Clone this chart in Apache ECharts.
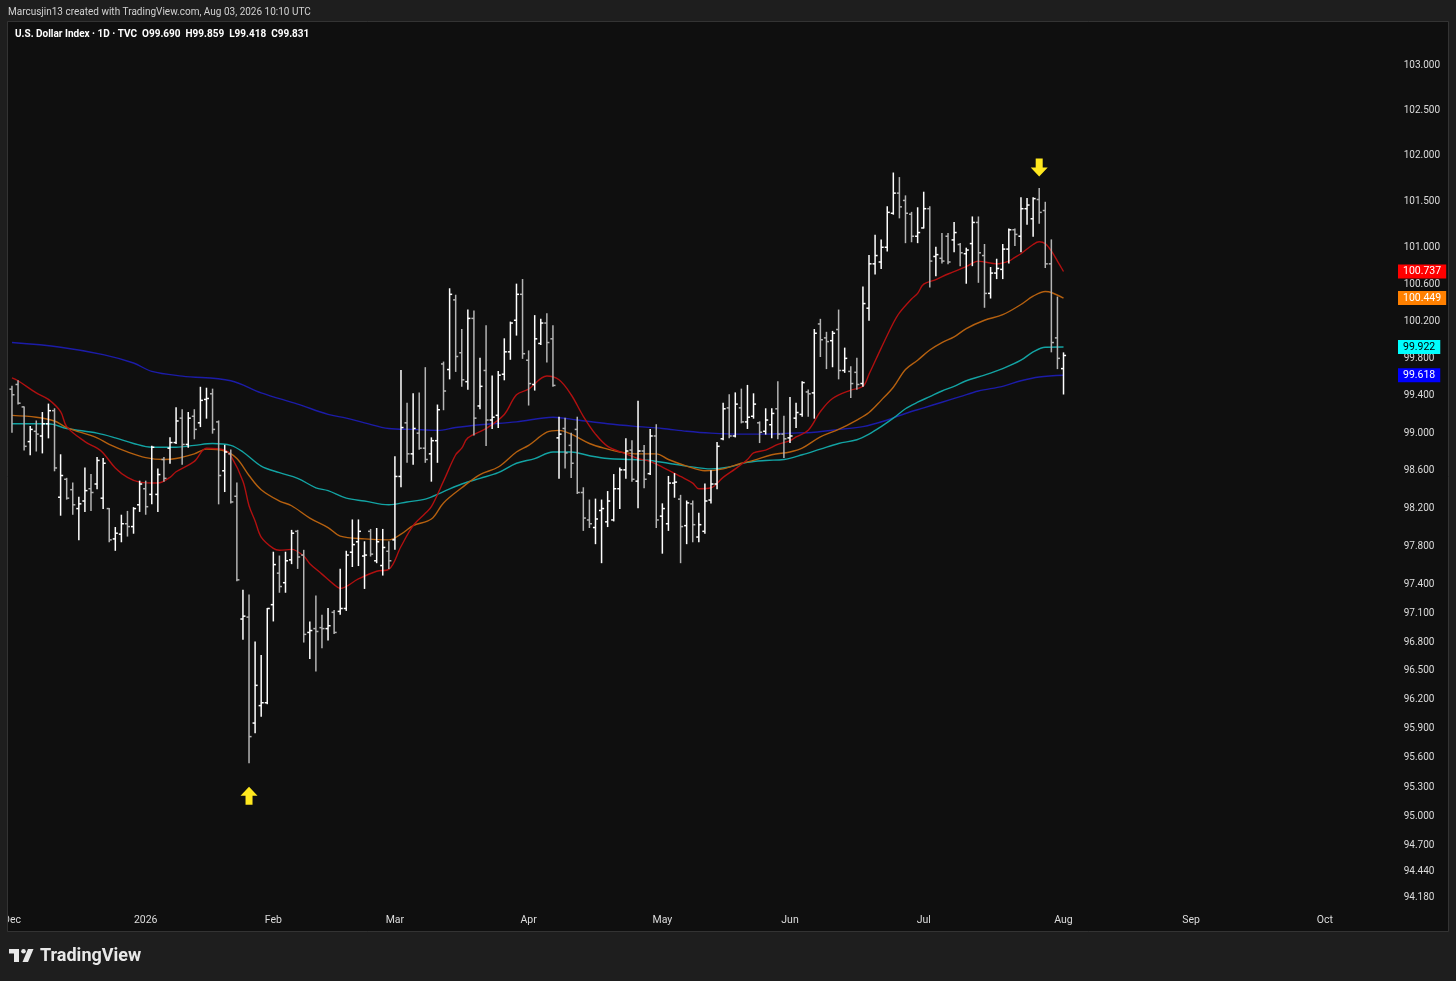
<!DOCTYPE html>
<html>
<head>
<meta charset="utf-8">
<script src="https://cdn.jsdelivr.net/npm/echarts@6/dist/echarts.min.js"></script>
<style>
html,body{margin:0;padding:0;background:#1e1e1e;}
#c{width:1456px;height:981px;}
</style>
</head>
<body>
<div id="c"></div>
<script>
// ---------- DATA ----------
const holidays = ['2025-12-25', '2026-01-01'];
const firstDay = '2025-12-01';
const categoryCount = 227;

const opens = [99.47,99.52,99.28,98.91,99.02,98.97,99.10,99.24,98.32,98.51,
98.40,98.20,98.28,98.41,98.46,98.31,98.20,97.88,97.93,98.04,
98.01,98.24,98.41,98.35,98.35,98.72,98.84,98.90,99.16,98.88,
99.18,99.11,99.36,99.42,99.12,98.60,98.78,98.33,97.04,97.06,
95.96,96.14,96.17,97.19,97.52,97.42,97.66,97.96,97.71,96.90,
96.94,96.95,96.94,97.11,97.12,97.15,97.74,97.85,97.70,97.96,
97.65,97.60,97.75,97.87,98.54,99.11,98.78,99.00,98.84,98.78,
98.92,99.74,99.68,100.43,99.86,99.55,100.23,99.29,99.67,99.14,
99.19,99.63,99.87,100.21,100.49,99.78,99.52,99.96,100.18,100.01,
98.95,99.05,98.87,99.04,98.37,98.08,98.00,98.18,98.06,98.08,
98.41,98.61,98.82,98.49,98.81,98.57,98.97,98.12,98.04,98.47,
98.30,98.02,98.25,97.90,97.96,98.29,98.46,98.94,99.27,98.97,
99.27,99.12,99.18,99.11,99.02,99.09,99.26,98.99,98.95,99.16,
99.20,99.44,99.43,100.17,100.02,99.99,100.11,99.67,99.66,99.65,
99.53,100.34,100.82,100.84,101.00,101.37,101.59,101.51,101.36,101.12,
101.21,101.42,100.90,100.88,101.12,101.08,101.03,100.93,101.04,101.27,
100.91,100.50,100.72,100.76,100.98,101.19,101.12,101.42,101.31,101.52,
101.40,100.82,100.02,99.690];

const highs = [99.50,99.56,99.28,99.07,99.13,99.22,99.31,99.26,98.77,98.52,
98.47,98.32,98.63,98.56,98.74,98.73,98.20,98.00,98.13,98.17,
98.21,98.49,98.49,98.86,98.62,98.74,98.95,99.27,99.25,99.22,
99.25,99.49,99.48,99.47,99.13,98.87,98.82,98.47,97.34,97.29,
96.80,96.66,97.15,97.74,97.70,97.74,97.97,97.97,97.76,97.01,
97.28,97.08,97.15,97.13,97.56,97.75,98.08,98.08,97.85,97.98,
97.99,97.98,97.85,98.75,99.67,99.32,99.42,99.43,99.70,98.95,
99.30,99.76,100.55,100.48,100.11,100.32,100.31,99.80,100.15,99.61,
99.66,100.01,100.19,100.60,100.65,99.88,100.26,100.22,100.28,100.15,
99.17,99.16,99.00,99.17,98.42,98.29,98.30,98.29,98.38,98.56,
98.63,98.94,98.92,99.34,98.87,99.04,99.09,98.25,98.54,98.57,
98.34,98.28,98.28,98.15,98.46,98.60,98.90,99.32,99.41,99.43,
99.47,99.51,99.42,99.12,99.26,99.26,99.55,99.18,99.38,99.32,
99.55,99.46,100.11,100.22,100.08,100.09,100.32,99.91,99.71,99.80,
100.57,100.91,101.13,101.08,101.44,101.81,101.76,101.56,101.38,101.43,
101.60,101.44,101.00,101.15,101.15,101.27,101.04,100.99,101.33,101.33,
101.03,100.78,100.87,101.03,101.20,101.20,101.54,101.53,101.54,101.64,
101.49,101.08,100.46,99.859];

const lows = [99.01,99.31,98.82,98.77,98.81,98.79,98.95,98.60,98.13,98.30,
98.14,97.87,98.17,98.18,98.41,98.20,97.85,97.76,97.85,97.91,
97.94,98.17,98.14,98.25,98.17,98.49,98.68,98.89,98.67,98.85,
98.94,99.07,99.16,99.00,98.25,98.38,98.26,97.44,96.83,95.55,
95.86,96.03,96.16,97.02,97.32,97.32,97.62,97.57,96.80,96.63,
96.50,96.74,96.82,96.89,97.09,97.13,97.59,97.60,97.36,97.70,
97.63,97.50,97.57,97.77,98.43,98.69,98.67,98.83,98.69,98.49,
98.69,99.25,99.58,99.66,99.50,99.47,98.98,99.26,98.87,99.05,
99.06,99.57,99.79,100.05,99.80,99.30,99.46,99.95,99.76,99.50,
98.52,98.63,98.53,98.36,97.97,98.00,97.83,97.63,98.01,98.07,
98.20,98.52,98.49,98.21,98.42,98.56,98.00,97.73,97.97,98.32,
97.63,97.83,97.85,97.85,97.94,98.26,98.41,98.93,98.95,98.96,
99.11,99.05,99.16,98.90,98.99,98.95,98.94,98.74,98.90,99.06,
99.18,99.18,99.16,99.82,99.69,99.71,99.58,99.65,99.38,99.47,
99.50,100.21,100.71,100.77,100.96,101.36,101.32,101.05,101.06,101.05,
101.21,100.57,100.69,100.83,100.82,100.95,100.80,100.61,100.80,100.62,
100.35,100.45,100.66,100.66,100.83,101.02,100.95,101.25,101.12,101.26,
100.78,99.87,99.69,99.418];

const closes = [99.41,99.32,98.86,99.04,98.99,99.10,99.24,98.63,98.55,98.31,
98.24,98.25,98.39,98.37,98.71,98.68,97.87,97.94,98.04,98.01,
98.20,98.46,98.22,98.85,98.56,98.52,98.90,99.13,98.88,99.16,
99.04,99.35,99.37,99.04,98.55,98.80,98.27,97.45,97.07,95.82,
96.35,96.17,97.15,97.61,97.38,97.65,97.94,97.69,96.88,96.92,
96.91,96.94,96.97,96.90,97.15,97.71,97.82,97.96,97.71,97.72,
97.85,97.79,97.65,98.54,99.06,98.78,99.05,98.84,98.72,98.92,
99.25,99.45,100.49,99.82,99.57,100.23,99.16,99.50,99.14,99.17,
99.62,99.87,100.18,100.49,99.85,99.53,100.01,100.18,99.97,99.51,
98.99,98.79,98.68,98.37,98.10,98.04,98.09,98.20,98.28,98.41,
98.61,98.81,98.51,98.81,98.51,98.97,98.08,98.20,98.47,98.48,
98.01,98.26,98.03,98.03,98.28,98.46,98.86,99.26,98.97,99.31,
99.12,99.17,99.31,99.01,99.14,99.21,98.99,98.94,98.97,99.22,
99.54,99.42,100.07,100.00,99.98,100.07,99.67,99.80,99.53,99.52,
100.39,100.82,100.91,101.00,101.38,101.59,101.44,101.37,101.12,101.16,
101.42,100.85,100.92,100.85,100.84,101.16,100.94,100.97,101.27,100.94,
100.50,100.72,100.77,100.98,101.19,101.14,101.42,101.46,101.53,101.38,
100.82,99.97,99.80,99.831];

// moving averages: [bar index, value]
const maRed = [[0,99.59],[1,99.56],[4,99.43],[6,99.36],[8,99.23],[9,99.07],[12,98.91],[14,98.84],[15,98.79],[17,98.63],[19,98.53],[21,98.48],[24,98.47],[26,98.53],[27,98.59],[30,98.70],[32,98.84],[35,98.82],[36,98.76],[38,98.49],[39,98.23],[40,98.07],[41,97.90],[43,97.78],[44,97.76],[46,97.77],[48,97.70],[49,97.62],[51,97.51],[53,97.40],[54,97.36],[57,97.46],[60,97.54],[62,97.56],[64,97.80],[66,98.02],[68,98.15],[69,98.22],[71,98.49],[73,98.77],[74,98.84],[75,98.95],[78,99.05],[81,99.20],[83,99.41],[85,99.47],[88,99.61],[90,99.57],[92,99.41],[94,99.18],[96,98.99],[98,98.86],[101,98.78],[103,98.73],[105,98.70],[107,98.64],[110,98.54],[112,98.47],[113,98.41],[115,98.42],[117,98.53],[119,98.62],[121,98.72],[122,98.79],[124,98.82],[126,98.88],[128,98.92],[129,98.96],[131,99.03],[133,99.23],[135,99.37],[138,99.46],[140,99.50],[141,99.63],[143,99.91],[145,100.18],[146,100.29],[148,100.44],[149,100.50],[150,100.60],[152,100.65],[154,100.71],[157,100.79],[159,100.85],[160,100.84],[162,100.82],[164,100.85],[165,100.89],[166,100.93],[168,101.03],[169,101.06],[170,101.04],[171,100.96],[172,100.85],[173,100.737]];

const maOrange = [[0,99.19],[4,99.17],[7,99.13],[9,99.06],[14,98.95],[16,98.88],[19,98.80],[22,98.74],[25,98.72],[27,98.73],[30,98.78],[32,98.83],[35,98.81],[37,98.73],[39,98.55],[41,98.40],[44,98.28],[46,98.23],[49,98.10],[52,98.00],[54,97.91],[58,97.88],[62,97.87],[64,97.93],[66,98.02],[69,98.09],[71,98.26],[74,98.42],[77,98.56],[80,98.64],[83,98.80],[85,98.87],[88,99.01],[90,99.03],[92,98.99],[95,98.89],[98,98.83],[100,98.80],[103,98.78],[106,98.78],[108,98.72],[111,98.65],[114,98.60],[117,98.62],[120,98.68],[122,98.71],[125,98.77],[128,98.80],[130,98.84],[133,98.96],[136,99.04],[139,99.14],[141,99.22],[143,99.35],[145,99.49],[147,99.68],[149,99.78],[151,99.89],[153,99.97],[155,100.03],[157,100.12],[160,100.21],[163,100.27],[166,100.38],[168,100.47],[170,100.52],[171,100.51],[173,100.449]];

const maCyan = [[0,99.10],[6,99.10],[9,99.05],[14,99.00],[17,98.95],[20,98.89],[23,98.85],[27,98.85],[30,98.87],[33,98.89],[36,98.87],[38,98.80],[41,98.65],[44,98.58],[47,98.52],[50,98.42],[52,98.39],[55,98.31],[58,98.28],[62,98.24],[65,98.27],[68,98.30],[71,98.38],[74,98.46],[77,98.52],[80,98.58],[83,98.68],[86,98.73],[89,98.80],[92,98.80],[95,98.76],[98,98.73],[102,98.72],[105,98.71],[108,98.68],[111,98.65],[115,98.62],[118,98.64],[121,98.69],[124,98.71],[127,98.72],[130,98.77],[133,98.83],[136,98.89],[139,98.93],[141,98.99],[143,99.07],[145,99.16],[147,99.26],[149,99.33],[151,99.39],[153,99.45],[155,99.50],[157,99.56],[160,99.62],[163,99.69],[166,99.78],[168,99.87],[170,99.92],[173,99.922]];

const maBlue = [[0,99.97],[8,99.92],[15,99.84],[20,99.75],[23,99.66],[28,99.61],[36,99.56],[41,99.43],[47,99.31],[52,99.20],[55,99.16],[58,99.11],[62,99.05],[66,99.04],[70,99.03],[73,99.06],[77,99.09],[83,99.12],[89,99.17],[93,99.14],[98,99.10],[103,99.07],[107,99.05],[111,99.02],[115,99.00],[120,98.99],[124,98.99],[128,99.00],[132,99.01],[136,99.04],[140,99.07],[144,99.14],[147,99.21],[150,99.27],[153,99.33],[156,99.39],[159,99.45],[163,99.50],[166,99.56],[169,99.60],[173,99.618]];

const priceTicks = [103, 102.5, 102, 101.5, 101, 100.6, 100.2, 99.8, 99.4, 99, 98.6, 98.2, 97.8, 97.4, 97.1, 96.8, 96.5, 96.2, 95.9, 95.6, 95.3, 95, 94.7, 94.44, 94.18];
const monthNames = ['Jan','Feb','Mar','Apr','May','Jun','Jul','Aug','Sep','Oct','Nov','Dec'];
const arrowDownBar = 169;
const arrowUpBar = 39;

// ---------- build categories (trading days) ----------
const categories = [];
(function () {
  const p = firstDay.split('-').map(Number);
  const d = new Date(Date.UTC(p[0], p[1] - 1, p[2]));
  while (categories.length < categoryCount) {
    const wd = d.getUTCDay();
    const s = d.toISOString().slice(0, 10);
    if (wd !== 0 && wd !== 6 && holidays.indexOf(s) < 0) categories.push(s);
    d.setUTCDate(d.getUTCDate() + 1);
  }
})();

const ohlc = opens.map((o, i) => [i, o, highs[i], lows[i], closes[i]]);

const FONT = 'Roboto, "Liberation Sans", sans-serif';
const chart = echarts.init(document.getElementById('c'), null, {renderer: 'canvas'});

const downArrow = 'path://M5,0 L12,0 L12,9 L17,9 L8.5,18 L0,9 L5,9 Z';
const upArrow = 'path://M8.5,0 L17,9 L12,9 L12,18 L5,18 L5,9 L0,9 Z';

function maSeries(name, data, color) {
  return {
    name: name, type: 'line', data: data, showSymbol: false, symbol: 'none',
    smooth: 0.35, z: 2, animation: false,
    lineStyle: {color: color, width: 1.4}
  };
}

const baseGraphics = [
  {type: 'rect', z: 100, silent: true, shape: {x: 0, y: 0, width: 1456, height: 22}, style: {fill: '#1e1e1e'}},
  {type: 'rect', z: 100, silent: true, shape: {x: 0, y: 0, width: 8, height: 981}, style: {fill: '#1e1e1e'}},
  {type: 'rect', z: 100, silent: true, shape: {x: 1448, y: 0, width: 8, height: 981}, style: {fill: '#1e1e1e'}},
  {type: 'rect', z: 100, silent: true, shape: {x: 0, y: 931, width: 1456, height: 50}, style: {fill: '#1e1e1e'}},
  {type: 'rect', z: 101, silent: true, shape: {x: 7.5, y: 21.5, width: 1441, height: 910}, style: {fill: 'none', stroke: '#333333', lineWidth: 1}},
  {type: 'text', z: 102, silent: true, x: 8, y: 12, style: {text: 'Marcusjin13 created with TradingView.com, Aug 03, 2026 10:10 UTC', fill: '#d2d2d2', font: '10px ' + FONT, textVerticalAlign: 'middle'}},
  {type: 'text', z: 102, silent: true, x: 15, y: 34, style: {text: 'U.S. Dollar Index · 1D · TVC  O99.690  H99.859  L99.418  C99.831', fill: '#ffffff', font: 'bold 10px ' + FONT, textVerticalAlign: 'middle'}},
  // TradingView logo
  {type: 'rect', z: 102, silent: true, shape: {x: 9, y: 949, width: 10, height: 4.5}, style: {fill: '#e8e8e8'}},
  {type: 'rect', z: 102, silent: true, shape: {x: 14, y: 949, width: 5, height: 13}, style: {fill: '#e8e8e8'}},
  {type: 'circle', z: 102, silent: true, shape: {cx: 23.5, cy: 951.3, r: 2.3}, style: {fill: '#e8e8e8'}},
  {type: 'polygon', z: 102, silent: true, shape: {points: [[28, 949], [33.5, 949], [28, 962], [22.5, 962]]}, style: {fill: '#e8e8e8'}},
  {type: 'text', z: 102, silent: true, x: 40, y: 956, style: {text: 'TradingView', fill: '#e8e8e8', font: 'bold 18px ' + FONT, textVerticalAlign: 'middle'}}
];

const option = {
  backgroundColor: '#0f0f0f',
  animation: false,
  grid: {left: 6.25, right: 67.3, top: 23, bottom: 72, containLabel: false},
  xAxis: {
    type: 'category', data: categories, boundaryGap: true,
    axisLine: {show: false}, axisTick: {show: false}, splitLine: {show: false},
    axisLabel: {
      color: '#dcdcdc', fontSize: 10.5, fontFamily: FONT, margin: 6,
      interval: function (i, v) { return i === 0 || v.slice(0, 7) !== categories[i - 1].slice(0, 7); },
      formatter: function (v) { const m = +v.slice(5, 7); return m === 1 ? v.slice(0, 4) : monthNames[m - 1]; }
    }
  },
  yAxis: {
    type: 'log', logBase: 10, position: 'right',
    min: 94.0593, max: 103.4666,
    axisLine: {show: false}, axisTick: {show: false}, splitLine: {show: false},
    axisLabel: {
      customValues: priceTicks,
      formatter: function (v) { return Number(v).toFixed(3); },
      color: '#dcdcdc', fontSize: 10, fontFamily: FONT, margin: 15
    }
  },
  series: [
    maSeries('MA200', maBlue, '#1c1ca8'),
    maSeries('MA100', maCyan, '#13a3a3'),
    maSeries('MA50', maOrange, '#b5600f'),
    maSeries('MA20', maRed, '#b01010'),
    {
      name: 'DXY', type: 'custom', data: ohlc, z: 5, animation: false, clip: true,
      encode: {x: 0, y: [1, 2, 3, 4]},
      renderItem: function (params, api) {
        const i = api.value(0), o = api.value(1), h = api.value(2), l = api.value(3), c = api.value(4);
        const pH = api.coord([i, h]), pL = api.coord([i, l]);
        const pO = api.coord([i, o]), pC = api.coord([i, c]);
        const bw = api.size([1, 1])[0];
        const t = bw * 0.42;
        const col = c >= o ? '#ffffff' : '#b4b4b4';
        const st = {stroke: col, lineWidth: 1.5};
        return {
          type: 'group',
          children: [
            {type: 'line', shape: {x1: pH[0], y1: pH[1] - 0.5, x2: pL[0], y2: pL[1] + 0.5}, style: st},
            {type: 'line', shape: {x1: pO[0] - t, y1: pO[1], x2: pO[0], y2: pO[1]}, style: st},
            {type: 'line', shape: {x1: pC[0], y1: pC[1], x2: pC[0] + t, y2: pC[1]}, style: st}
          ]
        };
      },
      markPoint: {
        silent: true, animation: false,
        itemStyle: {color: '#ffe81f'},
        label: {show: false},
        data: [
          {coord: [arrowDownBar, highs[arrowDownBar]], symbol: downArrow, symbolSize: [17, 18], symbolOffset: [0, -21]},
          {coord: [arrowUpBar, lows[arrowUpBar]], symbol: upArrow, symbolSize: [17, 18], symbolOffset: [0, 33]}
        ]
      }
    }
  ],
  graphic: {elements: baseGraphics}
};
chart.setOption(option);

// last-value badges on the price scale, positioned through the y axis scale
const badges = [
  [maRed, '#ff0000', '#ffffff'],
  [maOrange, '#ff8000', '#ffffff'],
  [maCyan, '#00ffff', '#000000'],
  [maBlue, '#0000ff', '#ffffff']
].map(function (b) {
  const v = b[0][b[0].length - 1][1];
  const y = chart.convertToPixel({yAxisIndex: 0}, v);
  return {
    type: 'text', z: 110, silent: true, x: 1398, y: y,
    style: {
      text: v.toFixed(3), fill: b[2], backgroundColor: b[1],
      padding: [2, 5, 1, 5], font: '10.5px ' + FONT, textVerticalAlign: 'middle'
    }
  };
});
chart.setOption({graphic: {elements: baseGraphics.concat(badges)}});
</script>
</body>
</html>
